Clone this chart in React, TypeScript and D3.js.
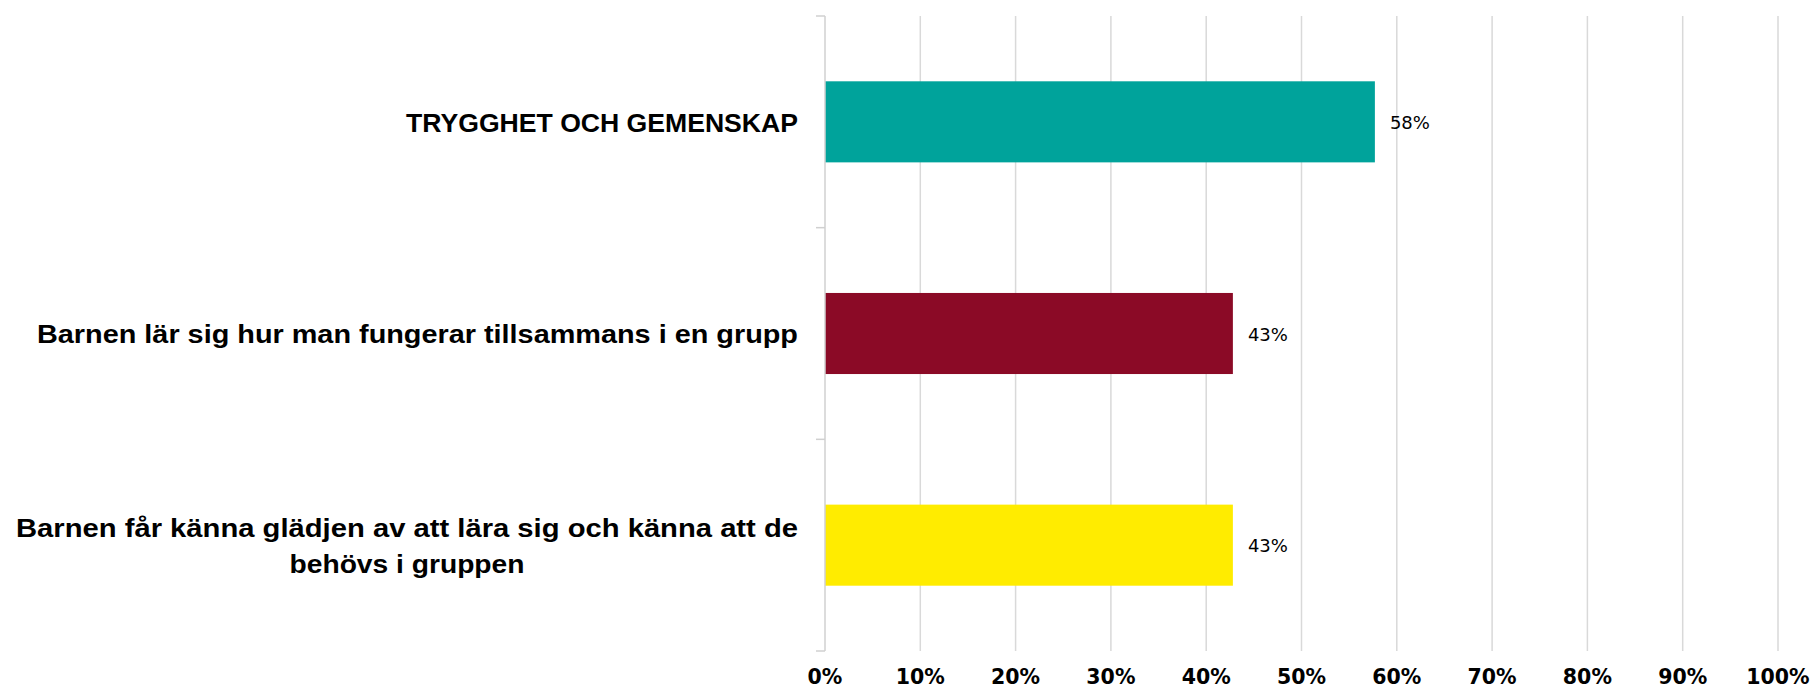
import React from "react";
import * as d3 from "d3";

const categories: string[][] = [
  ["TRYGGHET OCH GEMENSKAP"],
  ["Barnen lär sig hur man fungerar tillsammans i en grupp"],
  ["Barnen får känna glädjen av att lära sig och känna att de", "behövs i gruppen"],
];
const values: number[] = [0.577, 0.428, 0.428];
const valueLabels: string[] = ["58%", "43%", "43%"];
const barColors: string[] = ["#00A39B", "#8B0A26", "#FFEC00"];
const xTicks: number[] = [0, 0.1, 0.2, 0.3, 0.4, 0.5, 0.6, 0.7, 0.8, 0.9, 1.0];
// measured rendered widths of each label line in the reference
const labelWidths: number[][] = [[392], [761], [782, 235]];

const W = 1814;
const H = 689;
const plotLeft = 825;
const plotRight = 1778;
const plotTop = 16;
const plotBottom = 651;

export default function App() {
  const x = d3.scaleLinear().domain([0, 1]).range([plotLeft, plotRight]);
  const y = d3
    .scaleBand<number>()
    .domain(categories.map((_, i) => i))
    .range([plotTop, plotBottom])
    .paddingInner(0.617)
    .paddingOuter(0.3085);
  const boundaries = d3
    .range(categories.length + 1)
    .map((i) => plotTop + ((plotBottom - plotTop) / categories.length) * i);
  const fmt = d3.format(".0%");
  const labelRight = 798;
  const multiCenter = 407;

  return (
    <svg
      width={W}
      height={H}
      style={{ position: "absolute", left: 0, top: 0, background: "#fff" }}
    >
      {xTicks.slice(1).map((t) => (
        <line key={t} x1={x(t)} x2={x(t)} y1={plotTop} y2={plotBottom} stroke="#d9d9d9" strokeWidth={1.5} />
      ))}
      {values.map((v, i) => (
        <rect key={i} x={x(0)} y={y(i)!} width={x(v) - x(0)} height={y.bandwidth()} fill={barColors[i]} />
      ))}
      <line x1={plotLeft} x2={plotLeft} y1={plotTop} y2={plotBottom} stroke="#d0d0d0" strokeWidth={1.5} />
      {boundaries.map((b, i) => (
        <line key={i} x1={plotLeft - 9} x2={plotLeft} y1={b} y2={b} stroke="#d0d0d0" strokeWidth={1.5} />
      ))}
      {values.map((v, i) => (
        <text
          key={i}
          x={x(v) + 15}
          y={y(i)! + y.bandwidth() / 2 + 7.3}
          fontFamily="'DejaVu Sans', sans-serif"
          fontSize={18}
          fill="#000"
        >
          {valueLabels[i]}
        </text>
      ))}
      {categories.map((lines, i) => {
        const cy = y(i)! + y.bandwidth() / 2;
        const lh = 36;
        return (
          <g key={i}>
            {lines.map((l, j) => {
              const ly = cy + (j - (lines.length - 1) / 2) * lh + 9.7;
              const multi = lines.length > 1;
              return (
                <text
                  key={j}
                  x={multi ? multiCenter : labelRight}
                  y={ly}
                  textAnchor={multi ? "middle" : "end"}
                  textLength={labelWidths[i][j]}
                  lengthAdjust="spacingAndGlyphs"
                  fontFamily="'Liberation Sans', Arial, sans-serif"
                  fontWeight="bold"
                  fontSize={26.5}
                  fill="#000"
                >
                  {l}
                </text>
              );
            })}
          </g>
        );
      })}
      {xTicks.map((t) => (
        <text
          key={t}
          x={x(t)}
          y={684}
          textAnchor="middle"
          fontFamily="'DejaVu Sans', sans-serif"
          fontWeight="bold"
          fontSize={20.5}
          fill="#000"
        >
          {fmt(t)}
        </text>
      ))}
    </svg>
  );
}
